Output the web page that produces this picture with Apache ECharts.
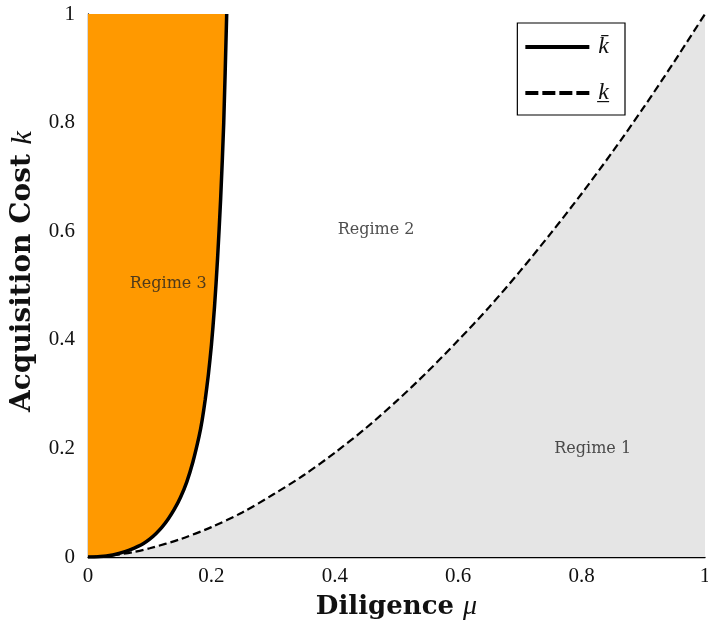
<!DOCTYPE html>
<html>
<head>
<meta charset="utf-8">
<script src="https://cdn.jsdelivr.net/npm/echarts@6/dist/echarts.min.js"></script>
<style>html,body{margin:0;padding:0;background:#fff}#c{width:708px;height:623px}</style>
</head>
<body>
<div id="c"></div>
<script>
// Upper threshold k-bar (solid curve)
const upperMu = [0, 0.01, 0.02, 0.03, 0.04, 0.05, 0.06, 0.07, 0.08, 0.09, 0.10, 0.11, 0.12, 0.13, 0.14, 0.15, 0.16, 0.17, 0.18, 0.185, 0.19, 0.195, 0.20, 0.205, 0.21, 0.215, 0.22, 0.2248];
const upperK  = [0, 0.0002, 0.0007, 0.0018, 0.0038, 0.0065, 0.010, 0.014, 0.019, 0.025, 0.033, 0.043, 0.055, 0.070, 0.088, 0.110, 0.138, 0.175, 0.222, 0.252, 0.290, 0.335, 0.390, 0.46, 0.55, 0.66, 0.80, 1.0];
// Lower threshold k-underbar (dashed curve)
const lowerMu = [0, 0.025, 0.05, 0.075, 0.10, 0.15, 0.20, 0.25, 0.30, 0.35, 0.40, 0.45, 0.50, 0.55, 0.60, 0.65, 0.70, 0.75, 0.80, 0.85, 0.90, 0.95, 1.0];
const lowerK  = [0, 0.0013, 0.0046, 0.0094, 0.016, 0.033, 0.055, 0.082, 0.115, 0.151, 0.192, 0.237, 0.287, 0.341, 0.399, 0.460, 0.526, 0.596, 0.669, 0.746, 0.827, 0.912, 1.0];
// Tick labels
const xTicks = ['0', '0.2', '0.4', '0.6', '0.8', '1'];
const yTicks = ['0', '0.2', '0.4', '0.6', '0.8', '1'];
// Region labels
const regimeNames = ['Regime 3', 'Regime 2', 'Regime 1'];
const regimeMu = [0.13, 0.467, 0.818];
const regimeK = [0.503, 0.602, 0.20];

const zip = (a, b) => a.map((v, i) => [v, b[i]]);
const upper = zip(upperMu, upperK);
const lower = zip(lowerMu, lowerK);

const SERIF = '"Liberation Serif", "DejaVu Serif", serif';
const WSERIF = '"DejaVu Serif", "Liberation Serif", serif';
const chart = echarts.init(document.getElementById('c'), null, {renderer: 'canvas'});

chart.setOption({
  animation: false,
  backgroundColor: '#fff',
  grid: {left: 88, right: 3, top: 14, bottom: 66, containLabel: false, outerBoundsMode: 'none'},
  xAxis: {
    type: 'value', min: 0, max: 1, interval: 0.2,
    axisLine: {show: true, onZero: false, lineStyle: {color: '#000', width: 1.3}},
    axisTick: {show: false},
    splitLine: {show: false},
    axisLabel: {color: '#111', fontFamily: SERIF, fontSize: 21, margin: 9,
      formatter: v => xTicks[Math.round(v * 5)]},
    name: '{b|Diligence }{i|μ}',
    nameLocation: 'middle', nameGap: 36,
    nameTextStyle: {rich: {
      b: {fontFamily: WSERIF, fontWeight: 'bold', fontSize: 26, color: '#111'},
      i: {fontFamily: SERIF, fontStyle: 'italic', fontSize: 28, color: '#111'}
    }}
  },
  yAxis: {
    type: 'value', min: 0, max: 1, interval: 0.2,
    axisLine: {show: true, onZero: false, lineStyle: {color: '#000', width: 1.3}},
    axisTick: {show: false},
    splitLine: {show: false},
    axisLabel: {color: '#111', fontFamily: SERIF, fontSize: 21, margin: 13,
      formatter: v => yTicks[Math.round(v * 5)]},
    name: '{b|Acquisition Cost }{i|k}',
    nameLocation: 'middle', nameGap: 46, nameRotate: 90,
    nameTextStyle: {padding: [0, 0, 0, 28], rich: {
      b: {fontFamily: WSERIF, fontWeight: 'bold', fontSize: 28, color: '#111'},
      i: {fontFamily: SERIF, fontStyle: 'italic', fontSize: 30, color: '#111'}
    }}
  },
  legend: {
    data: [
      {name: 'k\u0304', icon: 'path://M0,0H64V4H0Z'},
      {name: 'k\u0332', icon: 'path://M0,0H13V4H0Z M17,0H30V4H17Z M34,0H47V4H34Z M51,0H64V4H51Z'}
    ],
    orient: 'vertical',
    right: 83, top: 23,
    backgroundColor: '#fff',
    borderColor: '#000', borderWidth: 1.2, borderRadius: 0,
    padding: [12, 16, 10, 8],
    itemGap: 22,
    itemWidth: 64, itemHeight: 4,
    textStyle: {fontFamily: SERIF, fontStyle: 'italic', fontSize: 24, color: '#111', padding: [0, 0, 0, 4]},
    selectedMode: false
  },
  series: [
    {name: 'orange', type: 'custom', z: 1, silent: true,
     data: [0],
     renderItem: (params, api) => {
       const pts = [api.coord([0, 1])].concat(upper.map(p => api.coord(p)));
       return {type: 'polygon', shape: {points: pts}, style: {fill: '#FF9900', stroke: null}};
     }},
    {name: 'gray', type: 'line', data: lower, symbol: 'none', smooth: 0.3,
     lineStyle: {width: 0}, areaStyle: {color: '#E5E5E5', opacity: 1}, z: 3, silent: true},
    {name: 'k\u0304', type: 'line', data: upper, symbol: 'none', smooth: 0.25,
     itemStyle: {color: '#000'},
     lineStyle: {color: '#000', width: 3.5, type: 'solid'}, z: 5},
    {name: 'k\u0332', type: 'line', data: lower, symbol: 'none', smooth: 0.3,
     itemStyle: {color: '#000'},
     lineStyle: {color: '#000', width: 2.2, type: [8, 4]}, z: 5},
    {name: 'labels', type: 'scatter', symbolSize: 0, z: 6, silent: true,
     data: regimeNames.map((n, i) => ({value: [regimeMu[i], regimeK[i]], name: n})),
     label: {show: true, position: 'inside', formatter: p => p.name,
       fontFamily: WSERIF, fontSize: 16, color: '#222'}}
  ]
});
</script>
</body>
</html>
